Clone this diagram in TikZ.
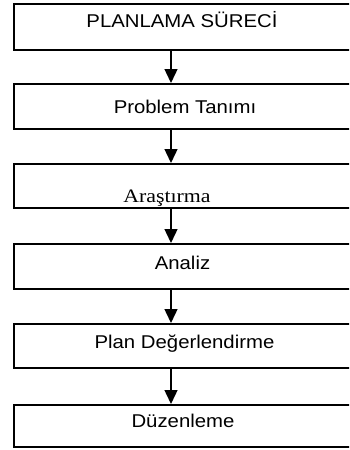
\documentclass[tikz,border=0pt]{standalone}
\usepackage{fontspec}
\setmainfont{Liberation Sans}[FakeStretch=1.1]
\newfontfamily\tnr{Liberation Serif}
\usetikzlibrary{arrows.meta}
\begin{document}
\begin{tikzpicture}[x=1pt,y=-1pt,
  box/.style={draw=black, line width=2pt, rectangle, anchor=north west, minimum width=352pt, inner sep=0pt},
  lbl/.style={anchor=base, inner sep=0pt, font=\fontsize{18.5}{20}\selectfont, text=black},
  arr/.style={draw=black, line width=1.4pt, -{Triangle[width=13pt,length=14pt]}}]
\useasboundingbox (0,0) rectangle (349,450);
\fill[white] (0,0) rectangle (349,450);
\begin{scope}
\clip (0,0) rectangle (349,450);
\node[box, minimum height=46pt] (b1) at (13,3) {};
\node[box, minimum height=45pt] (b2) at (13,83) {};
\node[box, minimum height=44pt] (b3) at (13,163) {};
\node[box, minimum height=45pt] (b4) at (13,243) {};
\node[box, minimum height=44pt] (b5) at (13,323) {};
\node[box, minimum height=42pt] (b6) at (13,404) {};
\end{scope}
\node[lbl] (t1) at (182,27) {PLANLAMA SÜRECİ};
\node[lbl] (t2) at (185,113) {Problem Tanımı};
\node[lbl, font=\fontsize{19}{20}\selectfont\tnr\addfontfeature{FakeStretch=1.15}] (t3) at (167,202) {Araştırma};
\node[lbl] (t4) at (182.5,269) {Analiz};
\node[lbl] (t5) at (184.5,348) {Plan Değerlendirme};
\node[lbl] (t6) at (183,427) {Düzenleme};
\coordinate (ax) at (171,0);
\draw[arr] (b1.south -| ax) -- (b2.north -| ax);
\draw[arr] (b2.south -| ax) -- (b3.north -| ax);
\draw[arr] (b3.south -| ax) -- (b4.north -| ax);
\draw[arr] (b4.south -| ax) -- (b5.north -| ax);
\draw[arr] (b5.south -| ax) -- (b6.north -| ax);
\end{tikzpicture}
\end{document}
